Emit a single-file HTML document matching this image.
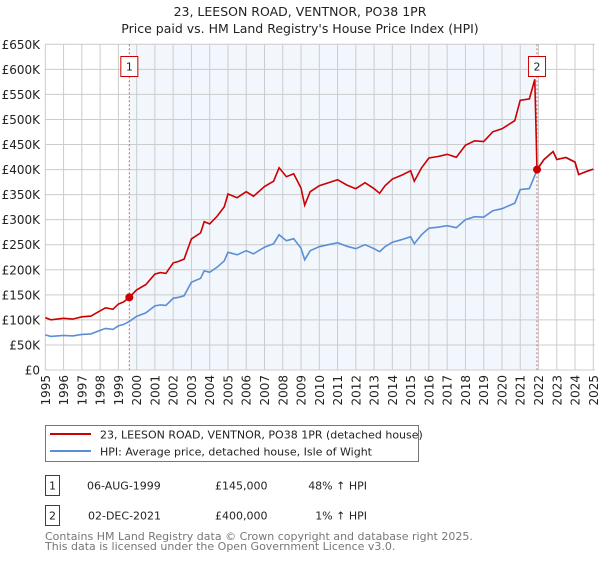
<!DOCTYPE html>
<html><head><meta charset="utf-8"><style>
body{margin:0;background:#fff;font-family:"DejaVu Sans","Liberation Sans",sans-serif;}
svg text{font-family:"DejaVu Sans","Liberation Sans",sans-serif;}
</style></head><body>
<svg id="c" width="600" height="560" xmlns="http://www.w3.org/2000/svg">
<text x="300" y="16" text-anchor="middle" font-size="12.5" fill="#222">23, LEESON ROAD, VENTNOR, PO38 1PR</text>
<text x="300" y="33" text-anchor="middle" font-size="12.5" fill="#222">Price paid vs. HM Land Registry's House Price Index (HPI)</text>
<g id="plot"></g>
<rect x="45.5" y="425.5" width="373" height="36" fill="#fff" stroke="#777"/>
<line x1="50" y1="434" x2="91" y2="434" stroke="#cc0000" stroke-width="2"/>
<text x="100" y="438.5" font-size="11" fill="#222">23, LEESON ROAD, VENTNOR, PO38 1PR (detached house)</text>
<line x1="50" y1="451" x2="91" y2="451" stroke="#5b8fd4" stroke-width="2"/>
<text x="100" y="455.5" font-size="11" fill="#222">HPI: Average price, detached house, Isle of Wight</text>
<g font-size="11" fill="#222">
<rect x="45.5" y="475.5" width="14" height="20" fill="none" stroke="#cc0000"/>
<text x="52.5" y="489.5" text-anchor="middle">1</text>
<text x="87" y="489.5">06-AUG-1999</text>
<text x="215" y="489.5">£145,000</text>
<text x="367" y="489.5" text-anchor="end">48% ↑ HPI</text>
<rect x="45.5" y="505.5" width="14" height="20" fill="none" stroke="#cc0000"/>
<text x="52.5" y="519.5" text-anchor="middle">2</text>
<text x="88" y="519.5">02-DEC-2021</text>
<text x="215" y="519.5">£400,000</text>
<text x="367" y="519.5" text-anchor="end">1% ↑ HPI</text>
</g>
<text x="45" y="540" font-size="11" fill="#777">Contains HM Land Registry data © Crown copyright and database right 2025.</text>
<text x="45" y="550" font-size="11" fill="#777">This data is licensed under the Open Government Licence v3.0.</text>
</svg>
<script>
const hpiYears=[1995,1995.3,1996,1996.5,1997,1997.5,1998,1998.3,1998.7,1999,1999.3,1999.6,2000,2000.5,2001,2001.3,2001.6,2002,2002.3,2002.6,2003,2003.5,2003.7,2004,2004.4,2004.8,2005,2005.5,2006,2006.4,2007,2007.5,2007.8,2008.2,2008.6,2009,2009.2,2009.5,2010,2010.5,2011,2011.5,2012,2012.5,2013,2013.3,2013.6,2014,2014.5,2015,2015.2,2015.6,2016,2016.5,2017,2017.5,2018,2018.5,2019,2019.5,2020,2020.7,2021,2021.5,2021.8,2021.92,2022.3,2022.8,2023,2023.5,2024,2024.2,2024.6,2025];
const hpiValues=[70,67,69,68,71,72,79,83,81,88,91,97,107,114,128,130,129,143,145,148,175,183,198,195,205,218,235,230,238,232,245,252,270,258,262,243,220,238,246,250,254,247,242,250,242,236,246,255,260,266,252,270,283,285,288,284,300,306,305,318,322,333,360,362,388,400,420,436,420,424,415,390,396,401];
const saleDates=[1999.6,2021.92];
const salePrices=[145,400];
const yTicks=[0,50,100,150,200,250,300,350,400,450,500,550,600,650];
const xTicks=[1995,1996,1997,1998,1999,2000,2001,2002,2003,2004,2005,2006,2007,2008,2009,2010,2011,2012,2013,2014,2015,2016,2017,2018,2019,2020,2021,2022,2023,2024,2025];
const NS="http://www.w3.org/2000/svg";
const L=45.3,R=593.3,T=44.3,B=370;
const xs=y=>L+(y-1995)/30*(R-L);
const ys=v=>B-v/650*(B-T);
const g=document.getElementById('plot');
function mk(t,a){const e=document.createElementNS(NS,t);for(const k in a)e.setAttribute(k,a[k]);g.appendChild(e);return e;}
let e=mk('rect',{x:L,y:T,width:595-L,height:B-T,fill:'#fff'});


e=mk('rect',{x:xs(saleDates[0]),y:T,width:xs(saleDates[1])-xs(saleDates[0]),height:B-T,fill:'#f2f6fd'});


yTicks.forEach(v=>{
 let l=mk('line',{x1:L,x2:595,y1:ys(v),y2:ys(v),stroke:'#ccc','stroke-width':1});
 
 
 let t=mk('text',{x:40,y:ys(v)+4.5,'text-anchor':'end','font-size':'12',fill:'#222'});
 t.textContent=v===0?'£0':'£'+v+'K';
 
 
});
xTicks.forEach(y=>{
 let l=mk('line',{x1:xs(y),x2:xs(y),y1:T,y2:B,stroke:'#ccc','stroke-width':1});
 
 
 let t=mk('text',{x:0,y:0,'text-anchor':'end','font-size':'12',fill:'#222',transform:`translate(${xs(y)+4.5},375) rotate(-90)`});
 t.textContent=y;
 
 
});
saleDates.forEach((d,i)=>{
 let l=mk('line',{x1:xs(d),x2:xs(d),y1:T,y2:B,stroke:'#e06060','stroke-width':1,'stroke-dasharray':'2,2'});
 
 
 let r=mk('rect',{x:xs(d)-8.5,y:56.5,width:17,height:20,fill:'#fff',stroke:'#cc0000'});
 
 
 let t=mk('text',{x:xs(d),y:70.5,'text-anchor':'middle','font-size':'11',fill:'#222'});
 t.textContent=String(i+1);
 
 
});
function hpiAt(t){for(let i=0;i<hpiYears.length-1;i++){if(t<=hpiYears[i+1]){const f=(t-hpiYears[i])/(hpiYears[i+1]-hpiYears[i]);return hpiValues[i]+f*(hpiValues[i+1]-hpiValues[i]);}}return hpiValues[hpiValues.length-1];}
const r1=salePrices[0]/hpiAt(saleDates[0]),r2=salePrices[1]/hpiAt(saleDates[1]);
let hp='',rp='';
hpiYears.forEach((y,i)=>{
 hp+=(i?'L':'M')+xs(y).toFixed(1)+','+ys(hpiValues[i]).toFixed(1);
 const v=y<saleDates[1]?hpiValues[i]*r1:hpiValues[i]*r2;
 rp+=(i?'L':'M')+xs(y).toFixed(1)+','+ys(v).toFixed(1);
});
e=mk('path',{d:hp,fill:'none',stroke:'#5b8fd4','stroke-width':1.6});


e=mk('path',{d:rp,fill:'none',stroke:'#cc0000','stroke-width':1.6});


saleDates.forEach((d,i)=>{
 let c=mk('circle',{cx:xs(d),cy:ys(salePrices[i]),r:4,fill:'#cc0000'});
 
 
});
</script>
</body></html>
